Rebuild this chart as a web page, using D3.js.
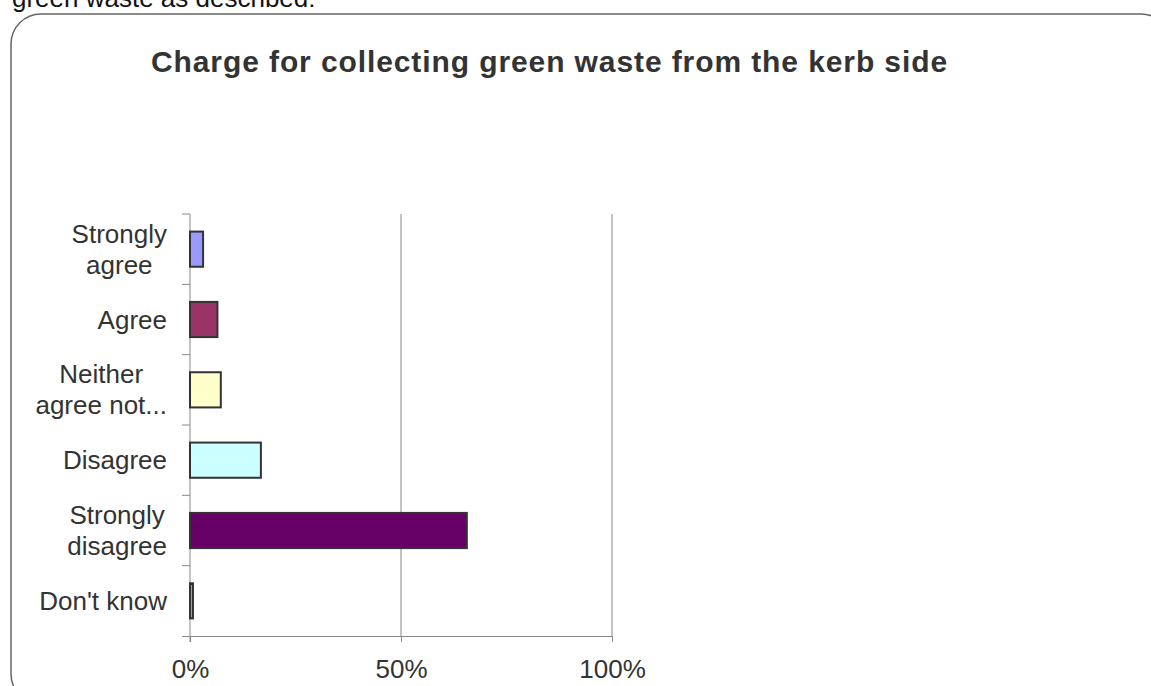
<!DOCTYPE html>
<html>
<head>
<meta charset="utf-8">
<script src="https://cdn.jsdelivr.net/npm/d3@7"></script>
<style>
  html, body { margin: 0; padding: 0; background: #fff; }
  svg { display: block; }
</style>
</head>
<body>
<svg id="chart" width="1151" height="686"></svg>
<script>
// Survey responses: share of respondents per answer
const categories = ["Strongly agree", "Agree", "Neither agree not...", "Disagree", "Strongly disagree", "Don't know"];
const labelLines = [["Strongly", "agree"], ["Agree"], ["Neither", "agree not..."], ["Disagree"], ["Strongly", "disagree"], ["Don't know"]];
const shares = [0.031, 0.065, 0.073, 0.168, 0.656, 0.007];
const barColors = ["#9999FF", "#993366", "#FFFFCC", "#CCFFFF", "#660066", "#FF8080"];
const tickValues = [0, 0.5, 1];

const svg = d3.select("#chart");
const font = "'Liberation Sans', Arial, sans-serif";

// Question text running above the chart panel
svg.append("text")
  .attr("x", 12).attr("y", 7)
  .attr("font-family", font).attr("font-size", 26)
  .attr("fill", "#111")
  .text("green waste as described:");

// Rounded panel frame
svg.append("rect")
  .attr("x", 11).attr("y", 14)
  .attr("width", 1160).attr("height", 690)
  .attr("rx", 30).attr("ry", 30)
  .attr("fill", "none")
  .attr("stroke", "#666").attr("stroke-width", 1.5);

// Title
svg.append("text")
  .attr("x", 151).attr("y", 72)
  .attr("font-family", font).attr("font-size", 30).attr("font-weight", "bold")
  .attr("letter-spacing", "0.9px")
  .attr("fill", "#333")
  .text("Charge for collecting green waste from the kerb side");

const plot = { left: 190, right: 612, top: 214, bottom: 636 };

const x = d3.scaleLinear().domain([0, 1]).range([plot.left, plot.right]);
const y = d3.scaleBand().domain(categories)
  .range([plot.top, plot.bottom])
  .paddingInner(0.5).paddingOuter(0.25);

const axisColor = "#888";

// Vertical gridlines
svg.append("g").selectAll("line")
  .data(tickValues.filter(d => d > 0))
  .join("line")
  .attr("x1", d => x(d)).attr("x2", d => x(d))
  .attr("y1", plot.top).attr("y2", plot.bottom)
  .attr("stroke", axisColor).attr("stroke-width", 1);

// Bottom axis
const xAxis = svg.append("g")
  .attr("transform", `translate(0,${plot.bottom})`)
  .call(d3.axisBottom(x).tickValues(tickValues).tickFormat(d3.format(".0%")).tickSize(6).tickSizeOuter(0));
xAxis.select(".domain").attr("stroke", axisColor).attr("d", `M${plot.left - 8},0.5H${plot.right}`);
xAxis.selectAll(".tick line").attr("stroke", axisColor);
xAxis.selectAll(".tick text")
  .attr("font-family", font).attr("font-size", 26).attr("fill", "#333")
  .attr("dy", null).attr("y", 42);

// Left axis line with ticks on category boundaries
const yAxis = svg.append("g");
yAxis.append("line")
  .attr("x1", plot.left).attr("x2", plot.left)
  .attr("y1", plot.top).attr("y2", plot.bottom + 6)
  .attr("stroke", axisColor);
const boundaries = categories.map(c => y(c) - y.step() * 0.25);
yAxis.selectAll(".ytick")
  .data(boundaries)
  .join("line")
  .attr("class", "ytick")
  .attr("x1", plot.left - 8).attr("x2", plot.left)
  .attr("y1", d => d).attr("y2", d => d)
  .attr("stroke", axisColor);

// Category labels: each block sits right against the axis, lines centred within it
const lineHeight = 31;
const labelRight = 167;
svg.append("g").selectAll("text")
  .data(categories)
  .join("text")
  .attr("font-family", font).attr("font-size", 26).attr("fill", "#333")
  .attr("text-anchor", "middle")
  .each(function(c, i) {
    const lines = labelLines[i];
    const cy = y(c) + y.bandwidth() / 2;
    const first = cy - (lines.length - 1) * lineHeight / 2 + 9;
    const sel = d3.select(this);
    const spans = sel.selectAll("tspan")
      .data(lines)
      .join("tspan")
      .attr("y", (d, j) => first + j * lineHeight)
      .text(d => d);
    let widest = 0;
    spans.each(function() { widest = Math.max(widest, this.getComputedTextLength()); });
    spans.attr("x", labelRight - widest / 2);
  });

// Bars
svg.append("g").selectAll("rect")
  .data(categories)
  .join("rect")
  .attr("x", x(0))
  .attr("y", c => y(c))
  .attr("width", (c, i) => x(shares[i]) - x(0))
  .attr("height", y.bandwidth())
  .attr("fill", (c, i) => barColors[i])
  .attr("stroke", "#333").attr("stroke-width", 2);
</script>
</body>
</html>
